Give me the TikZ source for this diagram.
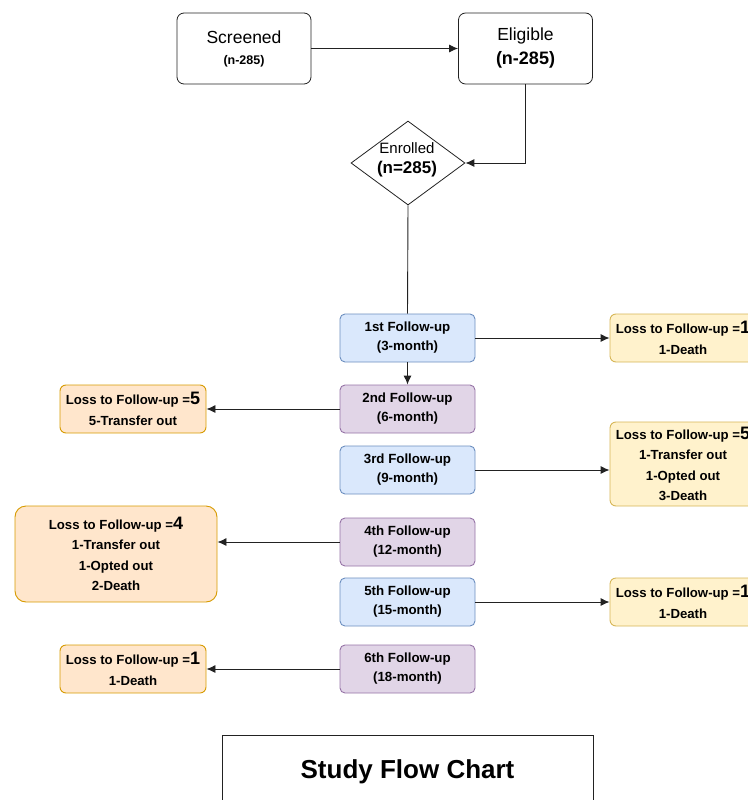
\documentclass[tikz,border=0pt]{standalone}
\usepackage{fontspec}
\setmainfont{Liberation Sans}
\usetikzlibrary{arrows.meta,shapes.geometric}
\definecolor{bluefill}{HTML}{DAE8FC}
\definecolor{blueline}{HTML}{6C8EBF}
\definecolor{purpfill}{HTML}{E1D5E7}
\definecolor{purpline}{HTML}{9673A6}
\definecolor{yelfill}{HTML}{FFF2CC}
\definecolor{yelline}{HTML}{D6B656}
\definecolor{orafill}{HTML}{FFE6CC}
\definecolor{oraline}{HTML}{D79B00}
\definecolor{edge}{HTML}{222222}
\tikzset{
  topbox/.style={draw=edge, line width=0.8pt, rounded corners=7pt, fill=white,
    minimum width=134pt, minimum height=71pt, align=center, inner sep=0pt},
  fubox/.style={line width=0.9pt, rounded corners=5pt, minimum width=135pt,
    minimum height=48pt, align=center, inner sep=0pt,
    font=\bfseries\fontsize{13.3}{19}\selectfont},
  fublue/.style={fubox, draw=blueline, fill=bluefill},
  fupurp/.style={fubox, draw=purpline, fill=purpfill},
  lossbox/.style={line width=0.9pt, rounded corners=6pt, minimum width=146pt,
    minimum height=48pt, align=center, inner sep=0pt,
    font=\bfseries\fontsize{13.2}{20.5}\selectfont},
  lossyel/.style={lossbox, draw=yelline, fill=yelfill},
  lossora/.style={lossbox, draw=oraline, fill=orafill},
  arr/.style={draw=edge, line width=0.9pt, -{Latex[length=9pt,width=8pt]}},
  plain/.style={draw=edge, line width=0.9pt},
}
\newcommand{\bignum}[1]{{\fontsize{18}{18}\selectfont #1}}
\begin{document}
\begin{tikzpicture}[x=1pt,y=-1pt]
\useasboundingbox (0,0) rectangle (747,800);
% top boxes
\node[topbox, font=\fontsize{17.5}{21}\selectfont] (scr) at (244,48.5) {Screened\\{\bfseries\fontsize{12.5}{21}\selectfont (n-285)}};
\node[topbox, font=\fontsize{17.5}{24}\selectfont] (elig) at (525.5,48.5) {Eligible\\{\bfseries\fontsize{18}{24}\selectfont (n-285)}};
\node[diamond, draw=edge, line width=0.8pt, fill=white, minimum width=114pt, minimum height=84pt, inner sep=0pt] (enr) at (408,163) {};
\node[align=center, inner sep=0pt, font=\fontsize{15}{20}\selectfont] (enrt) at (407,160) {Enrolled\\{\bfseries\fontsize{17}{20}\selectfont (n=285)}};
% follow-ups
\node[fublue] (fu1) at (407.5,338) {1st Follow-up\\(3-month)};
\node[fupurp] (fu2) at (407.5,409) {2nd Follow-up\\(6-month)};
\node[fublue] (fu3) at (407.5,470) {3rd Follow-up\\(9-month)};
\node[fupurp] (fu4) at (407.5,542) {4th Follow-up\\(12-month)};
\node[fublue] (fu5) at (407.5,602) {5th Follow-up\\(15-month)};
\node[fupurp] (fu6) at (407.5,669) {6th Follow-up\\(18-month)};
% loss boxes
\node[lossyel] (l1) at (683,338) {Loss to Follow-up =\bignum{1}\\1-Death};
\node[lossora] (l2) at (133,409) {Loss to Follow-up =\bignum{5}\\5-Transfer out};
\node[lossyel, minimum height=84pt] (l3) at (683,464) {Loss to Follow-up =\bignum{5}\\1-Transfer out\\1-Opted out\\3-Death};
\node[lossora, minimum width=202pt, minimum height=96pt, rounded corners=11pt] (l4) at (116,554) {Loss to Follow-up =\bignum{4}\\1-Transfer out\\1-Opted out\\2-Death};
\node[lossyel] (l5) at (683,602) {Loss to Follow-up =\bignum{1}\\1-Death};
\node[lossora] (l6) at (133,669) {Loss to Follow-up =\bignum{1}\\1-Death};
% title
\node[draw=edge, line width=0.8pt, minimum width=371pt, minimum height=74pt, inner sep=0pt,
  font=\bfseries\fontsize{26}{30}\selectfont] (title) at (407.5,772) {Study Flow Chart};
% connectors
\draw[arr] (scr) -- (elig);
\draw[arr] (elig.south) |- (enr.east);
\draw[plain] (enr.south) -- (fu1.north);
\draw[arr] (fu1.south) -- (fu2.north);
\draw[arr] (fu1.east) -- (l1.west);
\draw[arr] (fu2.west) -- (l2.east);
\draw[arr] (fu3.east) -- (fu3.east -| l3.west);
\draw[arr] (fu4.west) -- (fu4.west -| l4.east);
\draw[arr] (fu5.east) -- (l5.west);
\draw[arr] (fu6.west) -- (l6.east);
\end{tikzpicture}
\end{document}
